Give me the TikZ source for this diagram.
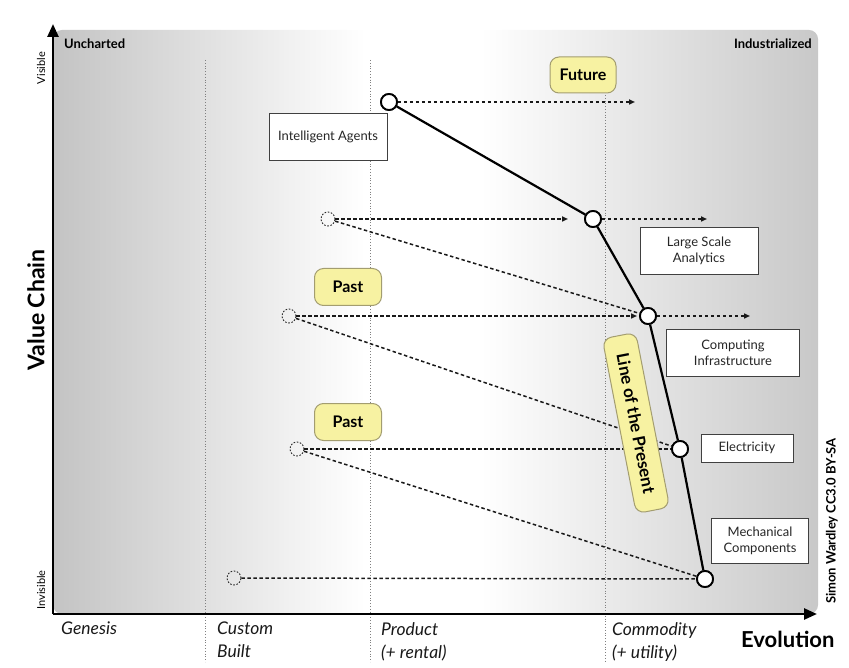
\documentclass[tikz,border=0pt]{standalone}
\usepackage{fontspec}
\setmainfont{Lato}
\usetikzlibrary{arrows.meta}
\definecolor{tagfill}{HTML}{F7F2A2}
\definecolor{tagdraw}{HTML}{A39D70}
\definecolor{greyL}{HTML}{C3C3C3}
\definecolor{greyR}{HTML}{C8C8C8}
\begin{document}
\begin{tikzpicture}[x=1pt,y=-1pt,
  comp/.style={circle,draw=black,line width=1.8pt,fill=white,minimum size=16pt,inner sep=0pt},
  pastc/.style={circle,draw=black!85,line width=0.9pt,dash pattern=on 1.6pt off 1.6pt,minimum size=14pt,inner sep=0pt},
  lbl/.style={draw=black!75,line width=0.8pt,fill=white,font=\fontsize{13}{16}\selectfont,text=black!85,align=center,inner sep=0pt},
  tag/.style={draw=tagdraw,line width=1pt,fill=tagfill,rounded corners=9pt,font=\bfseries\fontsize{16}{18}\selectfont,inner sep=0pt},
  mv/.style={dash pattern=on 3.5pt off 2.5pt,line width=1.5pt,draw=black!90},
  mvarr/.style={mv,-{Triangle[length=6pt,width=5pt]}},
  phase/.style={dash pattern=on 0.8pt off 2pt,line width=0.8pt,draw=black!50},
  axis/.style={line width=2.6pt,-{Triangle[length=13pt,width=11pt]}},
  evo/.style={font=\itshape\fontsize{17.5}{23}\selectfont,align=left,anchor=north west,inner sep=0pt,text=black!90},
  small/.style={font=\fontsize{11}{13}\selectfont,inner sep=0pt}
]
\useasboundingbox (0,0) rectangle (849,668);
% background
\begin{scope}
\clip[rounded corners=9pt] (53,30) rectangle (818,614);
\shade[left color=greyL,right color=white] (50,28) rectangle (365,616);
\fill[white] (364,28) rectangle (481,616);
\shade[left color=white,right color=greyR] (480,28) rectangle (820,616);
\end{scope}
% phase lines
\draw[phase] (205,60) -- (205,662);
\draw[phase] (370,60) -- (370,662);
\draw[phase] (605,95) -- (605,662);
% axes
\coordinate (o) at (53,614);
\coordinate (ytop) at (53,24);
\coordinate (xend) at (817,614);
\draw[axis] (o) -- (ytop);
\draw[axis] (o) -- (xend);
% axis labels
\node[font=\bfseries\fontsize{13}{15}\selectfont,anchor=west,inner sep=0pt] (unch) at (64,44) {Uncharted};
\node[font=\bfseries\fontsize{13}{15}\selectfont,anchor=east,inner sep=0pt] (ind) at (812,44) {Industrialized};
\node[small,rotate=90] (vis) at (41,68) {Visible};
\node[small,rotate=90] (invis) at (41,590) {Invisible};
\node[font=\bfseries\fontsize{23}{26}\selectfont,rotate=90,inner sep=0pt] (vc) at (36,310) {Value Chain};
\node[font=\bfseries\fontsize{22}{25}\selectfont,anchor=west,inner sep=0pt] (evol) at (741,639) {Evolution};
\node[font=\bfseries\fontsize{13}{15}\selectfont,rotate=90,inner sep=0pt] (cc) at (832,521) {Simon Wardley CC3.0 BY-SA};
\node[evo] (gen) at (61,622) {Genesis};
\node[evo] (cust) at (217,622) {Custom\\Built};
\node[evo] (prod) at (381,622) {Product\\(+ rental)};
\node[evo] (comm) at (612,622) {Commodity\\(+ utility)};
% label boxes
\node[lbl,minimum width=118pt,minimum height=47pt] (tIA) at (328,137) {Intelligent Agents};
\node[lbl,minimum width=118pt,minimum height=47pt] (tLSA) at (699,251) {Large Scale\\Analytics};
\node[lbl,minimum width=133pt,minimum height=47pt] (tCI) at (733,353) {Computing\\Infrastructure};
\node[lbl,minimum width=92pt,minimum height=28pt] (tEl) at (747,448) {Electricity};
\node[lbl,minimum width=97pt,minimum height=45pt] (tMC) at (760,541) {Mechanical\\Components};
% past positions
\node[pastc] (pLSA) at (328,219) {};
\node[pastc] (pCI) at (289,316) {};
\node[pastc] (pEl) at (297,449) {};
\node[pastc] (pMC) at (234,578) {};
% components
\node[comp] (IA) at (389,102) {};
\node[comp] (LSA) at (593,219) {};
\node[comp] (CI) at (648,316) {};
\node[comp] (El) at (680,449) {};
\node[comp] (MC) at (705,579) {};
% arrow ends
\coordinate (fIA) at (635,102);
\coordinate (aLSA) at (568,219);
\coordinate (fLSA) at (707,219);
\coordinate (aCI) at (637,316);
\coordinate (fCI) at (750,316);
% movements
\draw[mvarr] (IA) -- (fIA);
\draw[mvarr] (pLSA) -- (aLSA);
\draw[mvarr] (LSA) -- (fLSA);
\draw[mv] (pLSA) -- (CI);
\draw[mvarr] (pCI) -- (aCI);
\draw[mvarr] (CI) -- (fCI);
\draw[mv] (pCI) -- (El);
\draw[mv] (pEl) -- (El);
\draw[mv] (pEl) -- (MC);
\draw[mv] (pMC) -- (MC);
% line of the present
\draw[line width=2.2pt] (IA) -- (LSA) -- (CI) -- (El) -- (MC);
% redraw circles on top
\node[comp] at (IA) {};
\node[comp] at (LSA) {};
\node[comp] at (CI) {};
\node[comp] at (El) {};
\node[comp] at (MC) {};
% tags
\node[tag,minimum width=66pt,minimum height=36pt] (fut) at (583,75) {Future};
\node[tag,minimum width=67pt,minimum height=37pt] (past1) at (348,287) {Past};
\node[tag,minimum width=67pt,minimum height=37pt] (past2) at (348,422) {Past};
\node[tag,minimum width=178pt,minimum height=34pt,rotate=-79,font=\bfseries\fontsize{17}{19}\selectfont] (lotp) at (636,423) {Line of the Present};
\end{tikzpicture}
\end{document}
